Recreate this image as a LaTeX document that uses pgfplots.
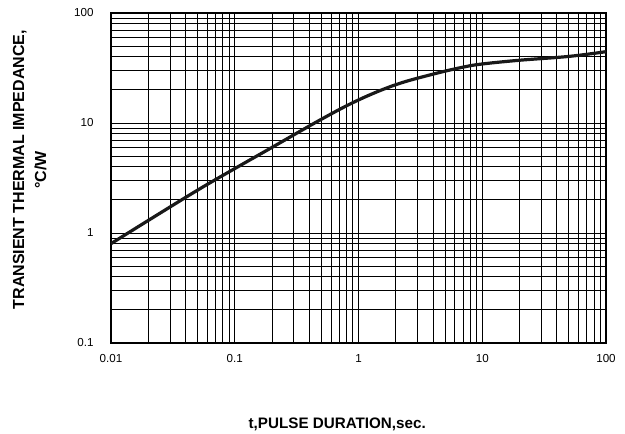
\documentclass[border=0pt]{standalone}
\usepackage{pgfplots}
\pgfplotsset{compat=1.18}
\usepackage{fontspec}
\setmainfont{Liberation Sans}

\begin{document}
\begin{tikzpicture}
\path[use as bounding box] (-111pt,-91pt) rectangle (514pt,343pt);
\begin{axis}[
  at={(0,0)}, anchor=south west,
  scale only axis, width=495pt, height=330pt,
  xmode=log, ymode=log,
  xmin=0.01, xmax=100, ymin=0.1, ymax=100,
  xtick={0.01,0.1,1,10,100},
  xticklabels={0.01,0.1,1,10,100},
  ytick={0.1,1,10,100},
  yticklabels={0.1,1,10,100},
  grid=both,
  major grid style={black, line width=1pt},
  minor grid style={black, line width=1pt},
  axis line style={black, line width=1.2pt},
  major tick length=0pt, minor tick length=0pt,
  /pgf/number format/assume math mode=true,
  tick label style={font=\fontsize{11.6}{13}\selectfont},
  xticklabel style={yshift=-7.5pt},
  yticklabel style={xshift=-14pt},
  xlabel={t,PULSE DURATION,sec.},
  xlabel style={at={(axis description cs:0.457,-0.248)}, anchor=center,
    font=\fontsize{15.2}{18}\selectfont\bfseries},
  ylabel={TRANSIENT THERMAL IMPEDANCE,\\ °C/W},
  ylabel style={at={(axis description cs:-0.164,0.525)}, anchor=center,
    align=center,
    font=\fontsize{16}{22}\selectfont\bfseries},
]
\addplot[black!90, line width=3.2pt, smooth, tension=0.6] coordinates {
  (0.01,0.8) (0.02,1.3) (0.05,2.45) (0.1,3.85) (0.2,6.0) (0.5,10.8)
  (1,16.2) (2,22.3) (4,27.8) (7,32.2) (10,34.4) (20,37.2) (50,40.3) (100,44.5)
};
\end{axis}
\end{tikzpicture}
\end{document}
